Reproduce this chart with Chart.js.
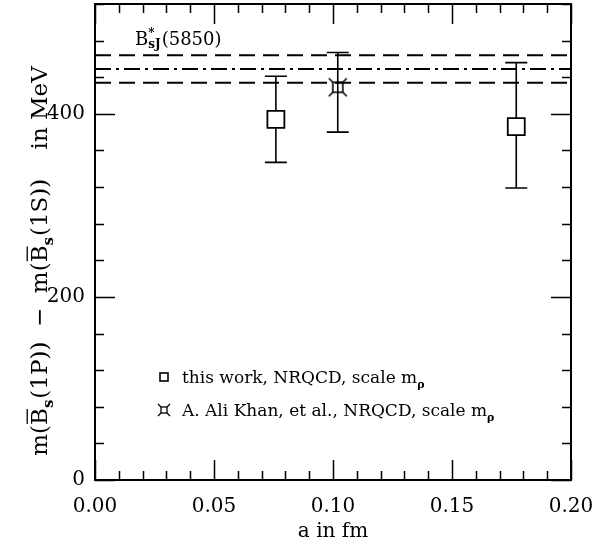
<!DOCTYPE html>
<html>
<head>
<meta charset="utf-8">
<script src="https://cdn.jsdelivr.net/npm/chart.js@4/dist/chart.umd.min.js"></script>
<style>
  html, body { margin: 0; padding: 0; background: #fff; }
</style>
</head>
<body>
<canvas id="grafico" width="613" height="548"></canvas>
<script>
// ---- dados ----
const thisWorkA = [0.076, 0.177];
const thisWorkMass = [394, 386];
const thisWorkHi = [441, 456];
const thisWorkLo = [347, 319];

const aliKhanA = [0.102];
const aliKhanMass = [429];
const aliKhanHi = [467];
const aliKhanLo = [380];

// B*_sJ(5850): faixa superior, central, inferior
const bsjUpper = 464;
const bsjCentral = 449;
const bsjLower = 434;

const xTicks = [0, 0.05, 0.10, 0.15, 0.20];
const yTicks = [0, 200, 400];
const xMinorStep = 0.01;
const yMinorStep = 40;
const X_MIN = 0, X_MAX = 0.2, Y_MIN = 0, Y_MAX = 520;

const FONT = "'DejaVu Serif', 'Liberation Serif', serif";

/* simbolo: quadradinho com X (A. Ali Khan) */
function drawCrossBox(ctx, cx, cy, h, arm, lw) {
  ctx.save();
  ctx.strokeStyle = '#000';
  ctx.lineWidth = lw;
  ctx.strokeRect(cx - h, cy - h, 2 * h, 2 * h);
  ctx.beginPath();
  ctx.moveTo(cx - arm, cy - arm); ctx.lineTo(cx - h, cy - h);
  ctx.moveTo(cx + arm, cy - arm); ctx.lineTo(cx + h, cy - h);
  ctx.moveTo(cx - arm, cy + arm); ctx.lineTo(cx - h, cy + h);
  ctx.moveTo(cx + arm, cy + arm); ctx.lineTo(cx + h, cy + h);
  ctx.stroke();
  ctx.restore();
}

const crossBoxImg = document.createElement('canvas');
crossBoxImg.width = 22; crossBoxImg.height = 22;
drawCrossBox(crossBoxImg.getContext('2d'), 11, 11, 5, 9, 1.6);

/* texto com sub/sobrescrito e barra */
function richWidth(ctx, parts, size) {
  let w = 0;
  parts.forEach(p => {
    if (p.sub !== undefined || p.sup !== undefined) {
      ctx.font = `bold ${Math.round(size * 0.65)}px ${FONT}`;
      w += Math.max(ctx.measureText(p.sub || '').width, ctx.measureText(p.sup || '').width) + 1;
    } else {
      ctx.font = `${size}px ${FONT}`;
      w += ctx.measureText(p.t).width;
    }
  });
  return w;
}
function drawRich(ctx, parts, x, y, size, subDrop = 0.28) {
  ctx.textBaseline = 'alphabetic';
  ctx.textAlign = 'left';
  ctx.fillStyle = '#000';
  parts.forEach(p => {
    if (p.sub !== undefined || p.sup !== undefined) {
      const s = Math.round(size * 0.65);
      ctx.font = `bold ${s}px ${FONT}`;
      let w = 0;
      if (p.sup) { ctx.fillText(p.sup, x, y - size * 0.45); w = Math.max(w, ctx.measureText(p.sup).width); }
      if (p.sub) { ctx.fillText(p.sub, x, y + size * subDrop); w = Math.max(w, ctx.measureText(p.sub).width); }
      x += w + 1;
    } else {
      ctx.font = `${size}px ${FONT}`;
      ctx.fillText(p.t, x, y);
      const w = ctx.measureText(p.t).width;
      if (p.bar) {
        ctx.save();
        ctx.strokeStyle = '#000';
        ctx.lineWidth = 1.3;
        ctx.beginPath();
        ctx.moveTo(x + 1, y - size * 0.86);
        ctx.lineTo(x + w - 1, y - size * 0.86);
        ctx.stroke();
        ctx.restore();
      }
      x += w;
    }
  });
  return x;
}

/* =========================
   Plugin: barras de erro, ticks internos, moldura, textos
   ========================= */
const decorPlugin = {
  id: 'decor',
  beforeDatasetsDraw(chart) {
    const ctx = chart.ctx;
    const xs = chart.scales.x, ys = chart.scales.y;
    ctx.save();
    ctx.strokeStyle = '#000';
    ctx.lineWidth = 1.6;
    chart.data.datasets.forEach(ds => {
      if (!ds.errHi) return;
      ds.data.forEach((pt, i) => {
        const px = xs.getPixelForValue(pt.x);
        const top = ys.getPixelForValue(ds.errHi[i]);
        const bot = ys.getPixelForValue(ds.errLo[i]);
        ctx.beginPath();
        ctx.moveTo(px, top); ctx.lineTo(px, bot);
        ctx.moveTo(px - 11, top); ctx.lineTo(px + 11, top);
        ctx.moveTo(px - 11, bot); ctx.lineTo(px + 11, bot);
        ctx.stroke();
      });
    });
    ctx.restore();
  },
  afterDraw(chart) {
    const ctx = chart.ctx;
    const a = chart.chartArea;
    const xs = chart.scales.x, ys = chart.scales.y;
    ctx.save();
    ctx.strokeStyle = '#000';

    // ticks internos nos quatro lados
    ctx.lineWidth = 1.5;
    ctx.beginPath();
    for (let k = 0; k <= Math.round((X_MAX - X_MIN) / xMinorStep); k++) {
      const v = X_MIN + k * xMinorStep;
      const px = Math.round(xs.getPixelForValue(v)) + 0.5;
      const len = (k % 5 === 0) ? 20 : 9;
      ctx.moveTo(px, a.bottom); ctx.lineTo(px, a.bottom - len);
      ctx.moveTo(px, a.top); ctx.lineTo(px, a.top + len);
    }
    for (let k = 0; k * yMinorStep <= Y_MAX; k++) {
      const v = Y_MIN + k * yMinorStep;
      const py = Math.round(ys.getPixelForValue(v)) + 0.5;
      const len = (v % 200 === 0) ? 20 : 9;
      ctx.moveTo(a.left, py); ctx.lineTo(a.left + len, py);
      ctx.moveTo(a.right, py); ctx.lineTo(a.right - len, py);
    }
    ctx.stroke();

    // moldura
    ctx.lineWidth = 2;
    ctx.strokeRect(a.left, a.top, a.right - a.left, a.bottom - a.top);

    // rotulo B*_sJ(5850)
    drawRich(ctx, [{ t: 'B' }, { sup: '*', sub: 'sJ' }, { t: '(5850)' }], 135, 45, 18, 0.18);

    // legenda
    ctx.lineWidth = 1.6;
    ctx.strokeRect(160, 373, 8, 8);
    drawRich(ctx, [{ t: 'this work, NRQCD, scale m' }, { sub: 'ρ' }], 182, 383, 17);
    drawCrossBox(ctx, 164, 410, 3, 6, 1.3);
    drawRich(ctx, [{ t: 'A. Ali Khan, et al., NRQCD, scale m' }, { sub: 'ρ' }], 182, 416, 17);

    // titulo do eixo y (rotacionado)
    const yTitle = [
      { t: 'm(' }, { t: 'B', bar: true }, { sub: 's' }, { t: '(1P))  \u2212  m(' },
      { t: 'B', bar: true }, { sub: 's' }, { t: '(1S))    in MeV' }
    ];
    const w = richWidth(ctx, yTitle, 23);
    ctx.translate(47, 261);
    ctx.rotate(-Math.PI / 2);
    drawRich(ctx, yTitle, -w / 2, 0, 23);
    ctx.restore();
  }
};

const linhaNivel = (v, dash) => ({
  type: 'line',
  data: [{ x: X_MIN, y: v }, { x: X_MAX, y: v }],
  borderColor: '#000',
  borderWidth: 2,
  borderDash: dash,
  pointRadius: 0,
  fill: false
});

new Chart(document.getElementById('grafico'), {
  type: 'scatter',
  data: {
    datasets: [
      linhaNivel(bsjUpper, [16, 8]),
      linhaNivel(bsjCentral, [16, 5, 3, 5]),
      linhaNivel(bsjLower, [16, 8]),
      {
        label: 'this work, NRQCD, scale m_rho',
        data: thisWorkA.map((a, i) => ({ x: a, y: thisWorkMass[i] })),
        errHi: thisWorkHi,
        errLo: thisWorkLo,
        pointStyle: 'rect',
        pointRadius: 12,
        pointBorderWidth: 1.8,
        borderColor: '#000',
        backgroundColor: '#fff'
      },
      {
        label: 'A. Ali Khan, et al., NRQCD, scale m_rho',
        data: aliKhanA.map((a, i) => ({ x: a, y: aliKhanMass[i] })),
        errHi: aliKhanHi,
        errLo: aliKhanLo,
        pointStyle: crossBoxImg,
        borderColor: '#000',
        backgroundColor: 'rgba(0,0,0,0)'
      }
    ]
  },
  options: {
    responsive: false,
    devicePixelRatio: 1,
    animation: false,
    layout: { autoPadding: false, padding: { top: 4, right: 42, left: 0, bottom: 0 } },
    plugins: { legend: { display: false }, tooltip: { enabled: false } },
    scales: {
      x: {
        type: 'linear',
        min: X_MIN, max: X_MAX,
        grid: { display: false, drawTicks: false },
        border: { display: false },
        afterBuildTicks: s => { s.ticks = xTicks.map(v => ({ value: v })); },
        afterFit: s => { s.height = 68; s.paddingLeft = 0; s.paddingRight = 0; },
        ticks: {
          color: '#000',
          font: { family: FONT, size: 20 },
          padding: 15,
          maxRotation: 0,
          autoSkip: false,
          callback: v => Number(v).toFixed(2)
        },
        title: {
          display: true,
          text: 'a in fm',
          color: '#000',
          font: { family: FONT, size: 20 },
          padding: { top: 0 }
        }
      },
      y: {
        type: 'linear',
        min: Y_MIN, max: Y_MAX,
        grid: { display: false, drawTicks: false },
        border: { display: false },
        afterBuildTicks: s => { s.ticks = yTicks.map(v => ({ value: v })); },
        afterFit: s => { s.width = 95; s.paddingTop = 0; s.paddingBottom = 0; },
        ticks: {
          color: '#000',
          font: { family: FONT, size: 20 },
          padding: 10,
          autoSkip: false
        }
      }
    }
  },
  plugins: [decorPlugin]
});
</script>
</body>
</html>
